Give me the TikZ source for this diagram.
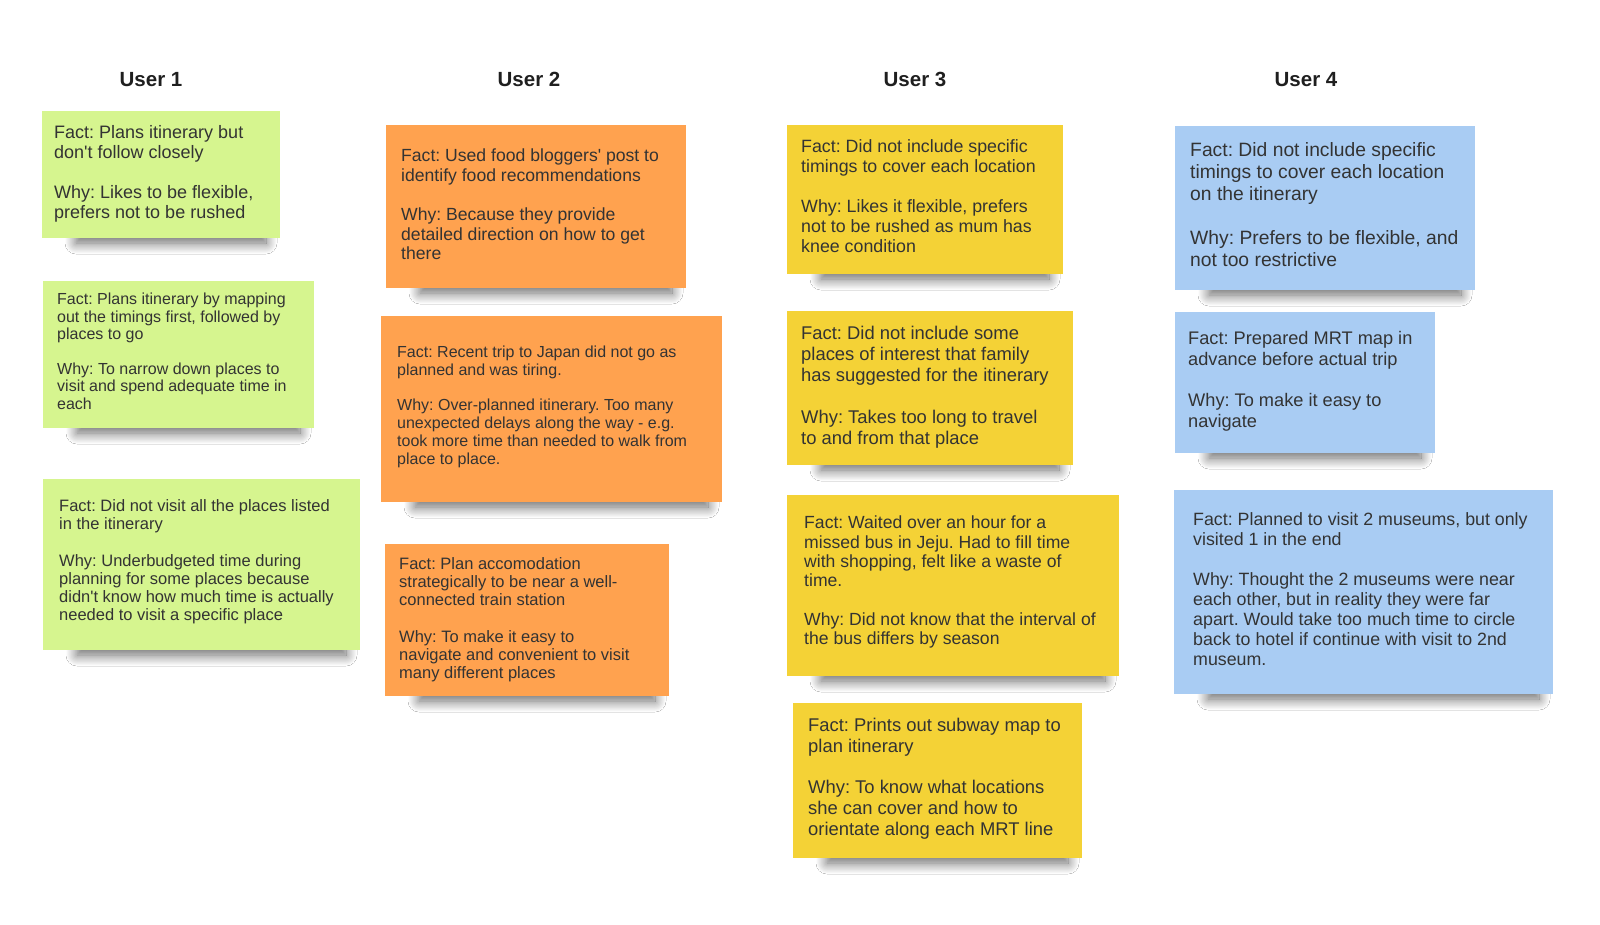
\documentclass[tikz,border=0pt]{standalone}
\usepackage{fontspec}
\setmainfont{Liberation Sans}
\usepackage{tikz}
\usetikzlibrary{shadows.blur}
\usepackage{xcolor}
\frenchspacing

\definecolor{notegreen}{HTML}{D6F58F}
\definecolor{noteorange}{HTML}{FFA24F}
\definecolor{noteyellow}{HTML}{F4D236}
\definecolor{noteblue}{HTML}{A9CCF3}
\definecolor{txtgray}{HTML}{333333}

\newcommand{\fsz}[2]{\fontsize{#1}{#2}\selectfont}
% colour, x1, y1, x2, y2
\newcommand{\stickynote}[5]{%
  \path[noteshadow] (#2+34,#5-16) rectangle (#4-14,#5-4);
  \fill[#1] (#2,#3) rectangle (#4,#5);}

\begin{document}
\begin{tikzpicture}[x=1pt, y=-1pt,
    noteshadow/.style={blur shadow={shadow xshift=0pt, shadow yshift=-9pt,
        shadow blur radius=11pt, shadow blur steps=16, shadow opacity=60}},
    notetext/.style={anchor=north west, inner sep=0pt, align=left, text=txtgray},
    header/.style={anchor=base, inner sep=0pt, text=black!88,
        font=\fsz{20.5}{24}\bfseries}]
    \useasboundingbox[fill=white] (0,0) rectangle (1600,924);

    \node[header] (h1) at (151,86) {User 1};
    \node[header] (h2) at (529,86) {User 2};
    \node[header] (h3) at (915,86) {User 3};
    \node[header] (h4) at (1306,86) {User 4};

    % user 1
    \stickynote{notegreen}{42}{111}{280}{238}
    \node[notetext, font=\fsz{18}{20}] (n11) at (54,125)
        {Fact: Plans itinerary but\\ don\textquotesingle t follow closely\\[20pt]
         Why: Likes to be flexible,\\ prefers not to be rushed};
    \stickynote{notegreen}{43}{281}{314}{428}
    \node[notetext, font=\fsz{16}{17.4}] (n12) at (57,293)
        {Fact: Plans itinerary by mapping\\ out the timings first, followed by\\ places to go\\[17.4pt]
         Why: To narrow down places to\\ visit and spend adequate time in\\ each};
    \stickynote{notegreen}{43}{479}{360}{650}
    \node[notetext, font=\fsz{16.5}{18.3}] (n13) at (59,499)
        {Fact: Did not visit all the places listed\\ in the itinerary\\[18.3pt]
         Why: Underbudgeted time during\\ planning for some places because\\
         didn\textquotesingle t know how much time is actually\\ needed to visit a specific place};

    % user 2
    \stickynote{noteorange}{386}{125}{686}{288}
    \node[notetext, font=\fsz{17.6}{19.6}] (n21) at (401,149)
        {Fact: Used food bloggers\textquotesingle\ post to\\ identify food recommendations\\[19.6pt]
         Why: Because they provide\\ detailed direction on how to get\\ there};
    \stickynote{noteorange}{381}{316}{722}{502}
    \node[notetext, font=\fsz{16}{17.7}] (n22) at (397,346)
        {Fact: Recent trip to Japan did not go as\\ planned and was tiring.\\[17.7pt]
         Why: Over-planned itinerary. Too many\\ unexpected delays along the way - e.g.\\
         took more time than needed to walk from\\ place to place.};
    \stickynote{noteorange}{385}{544}{669}{696}
    \node[notetext, font=\fsz{16.5}{18.3}] (n23) at (399,557)
        {Fact: Plan accomodation\\ strategically to be near a well-\\ connected train station\\[18.3pt]
         Why: To make it easy to\\ navigate and convenient to visit\\ many different places};

    % user 3
    \stickynote{noteyellow}{787}{125}{1063}{274}
    \node[notetext, font=\fsz{17.8}{20}] (n31) at (801,139)
        {Fact: Did not include specific\\ timings to cover each location\\[20pt]
         Why: Likes it flexible, prefers\\ not to be rushed as mum has\\ knee condition};
    \stickynote{noteyellow}{787}{311}{1073}{465}
    \node[notetext, font=\fsz{18.4}{21}] (n32) at (801,326)
        {Fact: Did not include some\\ places of interest that family\\ has suggested for the itinerary\\[21pt]
         Why: Takes too long to travel\\ to and from that place};
    \stickynote{noteyellow}{787}{495}{1119}{676}
    \node[notetext, font=\fsz{17.6}{19.3}] (n33) at (804,516)
        {Fact: Waited over an hour for a\\ missed bus in Jeju. Had to fill time\\
         with shopping, felt like a waste of\\ time.\\[19.3pt]
         Why: Did not know that the interval of\\ the bus differs by season};
    \stickynote{noteyellow}{793}{703}{1082}{858}
    \node[notetext, font=\fsz{18.4}{20.7}] (n34) at (808,718)
        {Fact: Prints out subway map to\\ plan itinerary\\[20.7pt]
         Why: To know what locations\\ she can cover and how to\\ orientate along each MRT line};

    % user 4
    \stickynote{noteblue}{1175}{126}{1475}{290}
    \node[notetext, font=\fsz{19.3}{22}] (n41) at (1190,142)
        {Fact: Did not include specific\\ timings to cover each location\\ on the itinerary\\[22pt]
         Why: Prefers to be flexible, and\\ not too restrictive};
    \stickynote{noteblue}{1175}{312}{1435}{453}
    \node[notetext, font=\fsz{18.2}{20.7}] (n42) at (1188,331)
        {Fact: Prepared MRT map in\\ advance before actual trip\\[20.7pt]
         Why: To make it easy to\\ navigate};
    \stickynote{noteblue}{1174}{490}{1553}{694}
    \node[notetext, font=\fsz{17.8}{20}] (n43) at (1193,512)
        {Fact: Planned to visit 2 museums, but only\\ visited 1 in the end\\[20pt]
         Why: Thought the 2 museums were near\\ each other, but in reality they were far\\
         apart. Would take too much time to circle\\ back to hotel if continue with visit to 2nd\\ museum.};
\end{tikzpicture}
\end{document}
